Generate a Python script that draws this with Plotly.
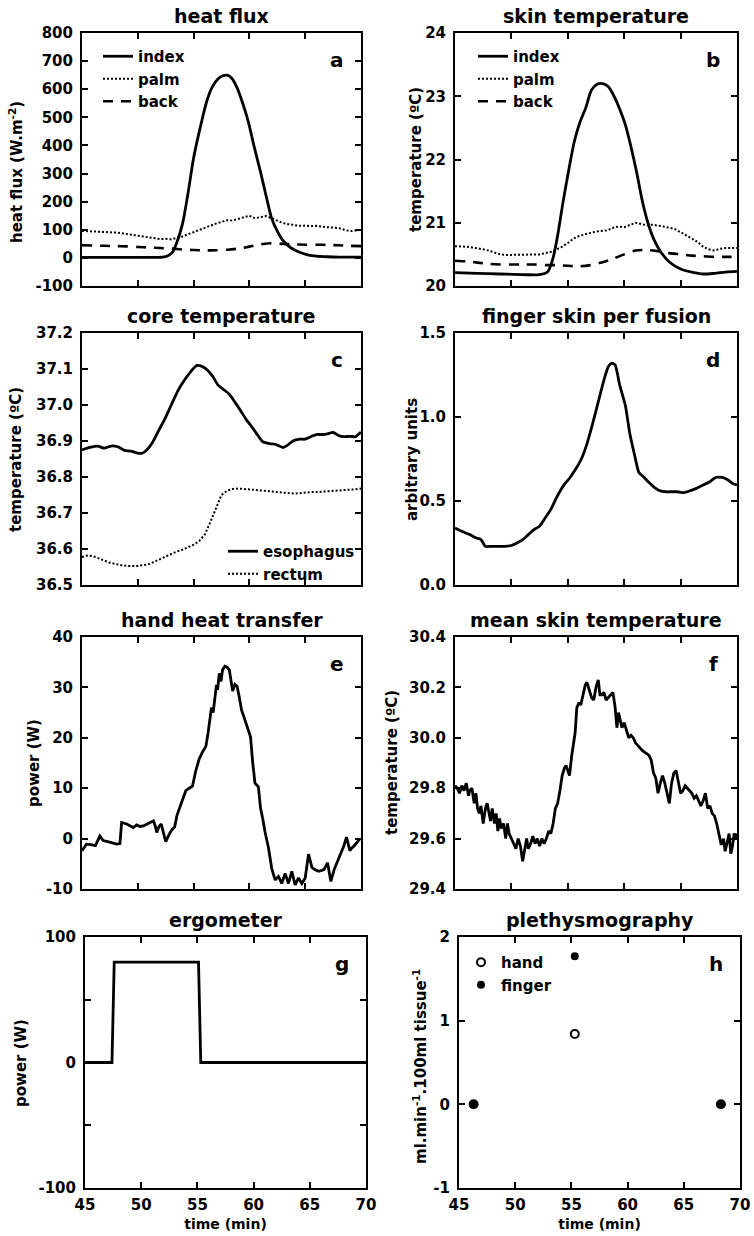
import plotly.graph_objects as go

# ---------------- data (time in min) ----------------
# a: heat flux (W.m-2)
a_index_t = [45, 47, 49, 51, 52.2, 52.7, 53.1, 53.5, 54, 54.5, 55, 55.6, 56.2, 56.7, 57.2, 57.6, 58,
             58.4, 58.9, 59.4, 59.9, 60.4, 61, 61.5, 62, 62.5, 63, 63.7, 64.5, 65.3, 66, 67, 68, 69, 70]
a_index = [2, 2, 2, 2, 3, 8, 20, 55, 120, 230, 355, 465, 560, 610, 637, 648, 650, 640, 605, 550, 485,
           400, 305, 220, 140, 95, 62, 36, 20, 10, 6, 4, 3, 3, 3]
a_palm_t = [45, 45.5, 46, 46.5, 47, 47.5, 48, 48.5, 49, 49.5, 50, 50.5, 51, 51.5, 52, 52.5, 53, 53.5,
            54, 54.5, 55, 55.5, 56, 56.5, 57, 57.5, 58, 58.5, 59, 59.5, 60, 60.5, 61, 61.5, 62, 62.5,
            63, 63.5, 64, 64.5, 65, 65.5, 66, 66.5, 67, 67.5, 68, 68.5, 69, 69.5, 70]
a_palm = [96, 95, 94, 95, 93, 92, 90, 88, 85, 80, 77, 74, 71, 69, 67, 68, 66, 71, 76, 84, 92, 99, 106,
          115, 122, 128, 134, 133, 138, 144, 150, 141, 146, 149, 141, 133, 124, 120, 117, 114, 115,
          113, 114, 111, 109, 108, 106, 100, 95, 97, 100]
a_back_t = [45, 46, 47, 48, 49, 50, 51, 52, 53, 54, 55, 56, 57, 58, 59, 60, 61, 62, 63, 64, 65, 66, 67,
            68, 69, 70]
a_back = [45, 44, 43, 42, 41, 39, 37, 35, 33, 30, 28, 27, 27, 29, 33, 40, 48, 52, 50, 48, 47, 47, 46,
          45, 43, 42]

# b: skin temperature (degC)
b_index_t = [45, 47, 49, 51, 52.5, 53.2, 53.7, 54.1, 54.6, 55.1, 55.6, 56.1, 56.6, 57.1, 57.6, 58.1,
             58.6, 59.1, 59.6, 60.1, 60.6, 61.1, 61.6, 62.1, 62.6, 63.2, 64, 65, 66, 67, 68, 69, 70]
b_index = [20.21, 20.2, 20.19, 20.18, 20.18, 20.22, 20.45, 20.8, 21.35, 21.85, 22.3, 22.6, 22.82, 23.1,
           23.19, 23.2, 23.15, 23.0, 22.8, 22.55, 22.2, 21.8, 21.35, 21.0, 20.75, 20.55, 20.38, 20.27,
           20.22, 20.19, 20.2, 20.22, 20.23]
b_palm_t = a_palm_t
b_palm = [20.63, 20.63, 20.62, 20.61, 20.6, 20.58, 20.56, 20.53, 20.5, 20.49, 20.49, 20.5, 20.5, 20.5,
          20.49, 20.5, 20.52, 20.54, 20.58, 20.62, 20.68, 20.75, 20.79, 20.82, 20.84, 20.86, 20.87,
          20.88, 20.92, 20.94, 20.93, 20.96, 21.0, 20.98, 20.96, 20.97, 20.96, 20.94, 20.92, 20.9,
          20.85, 20.8, 20.75, 20.7, 20.62, 20.58, 20.56, 20.59, 20.6, 20.6, 20.6]
b_back_t = a_back_t
b_back = [20.4, 20.39, 20.37, 20.35, 20.34, 20.34, 20.34, 20.34, 20.33, 20.33, 20.32, 20.31, 20.33,
          20.37, 20.43, 20.5, 20.56, 20.57, 20.55, 20.52, 20.5, 20.48, 20.47, 20.46, 20.46, 20.46]

# c: core temperature (degC)
c_eso_t = [45, 45.7, 46.4, 47, 47.6, 48.2, 48.8, 49.4, 50, 50.4, 50.8, 51.3, 51.8, 52.4, 53, 53.6, 54.2,
           54.8, 55.3, 55.7, 56.2, 56.7, 57.2, 57.6, 58.2, 58.7, 59.2, 59.7, 60.2, 60.7, 61.2, 61.8,
           62.4, 63, 63.4, 63.9, 64.5, 65, 65.5, 66, 66.5, 67, 67.5, 68, 68.5, 69, 69.5, 70]
c_eso = [36.875, 36.882, 36.886, 36.880, 36.886, 36.884, 36.874, 36.872, 36.866, 36.866, 36.875,
         36.895, 36.925, 36.96, 37.0, 37.04, 37.07, 37.095, 37.11, 37.108, 37.098, 37.08, 37.055,
         37.045, 37.03, 37.008, 36.985, 36.96, 36.94, 36.918, 36.898, 36.893, 36.89, 36.882, 36.888,
         36.9, 36.905, 36.905, 36.912, 36.918, 36.918, 36.92, 36.924, 36.915, 36.912, 36.913, 36.912,
         36.925]
c_rect_t = a_palm_t
c_rect = [36.578, 36.582, 36.58, 36.575, 36.568, 36.562, 36.558, 36.555, 36.553, 36.552, 36.553,
          36.555, 36.558, 36.565, 36.572, 36.58, 36.587, 36.593, 36.598, 36.605, 36.612, 36.622,
          36.64, 36.675, 36.715, 36.75, 36.762, 36.767, 36.768, 36.767, 36.766, 36.765, 36.764,
          36.762, 36.76, 36.758, 36.756, 36.754, 36.754, 36.755, 36.757, 36.758, 36.758, 36.759,
          36.76, 36.76, 36.761, 36.762, 36.764, 36.766, 36.768]

# d: finger skin perfusion (arbitrary units)
d_t = [45, 45.6, 46.3, 46.9, 47.3, 47.7, 48.2, 48.8, 49.4, 50, 50.5, 51, 51.5, 52, 52.5, 53, 53.5, 54,
       54.6, 55.2, 55.7, 56.2, 56.7, 57.2, 57.7, 58.2, 58.6, 58.9, 59.2, 59.6, 60.1, 60.5, 60.9, 61.3,
       61.7, 62.2, 62.7, 63.2, 63.7, 64.2, 64.7, 65.3, 65.8, 66.4, 67, 67.6, 68.1, 68.7, 69.2, 69.6, 70]
d_val = [0.34, 0.32, 0.30, 0.28, 0.27, 0.23, 0.23, 0.23, 0.23, 0.235, 0.25, 0.27, 0.30, 0.33, 0.35,
         0.40, 0.45, 0.52, 0.59, 0.64, 0.69, 0.75, 0.84, 0.96, 1.09, 1.22, 1.30, 1.32, 1.31, 1.19, 1.07,
         0.90, 0.78, 0.67, 0.645, 0.61, 0.58, 0.56, 0.555, 0.555, 0.555, 0.55, 0.56, 0.575, 0.595,
         0.615, 0.64, 0.64, 0.625, 0.605, 0.595]

# e: hand heat transfer (W)
e_t = [45.0, 45.4, 45.8, 46.2, 46.6, 46.9, 47.3, 47.6, 48.1, 48.4, 48.55, 49.0, 49.3, 49.6, 49.9, 50.2,
       50.5, 50.8, 51.1, 51.4, 51.55, 51.7, 51.9, 52.1, 52.3, 52.5, 52.8, 53.0, 53.3, 53.5, 53.7, 54.0,
       54.3, 54.6, 54.9, 55.2, 55.5, 55.8, 56.1, 56.3, 56.5, 56.6, 56.75, 56.9, 57.05, 57.15, 57.3,
       57.45, 57.6, 57.8, 58.0, 58.2, 58.35, 58.5, 58.7, 58.9, 59.1, 59.3, 59.5, 59.8, 60.1, 60.3, 60.5,
       60.8, 61.0, 61.2, 61.4, 61.7, 62.0, 62.3, 62.6, 62.9, 63.2, 63.5, 63.8, 64.1, 64.4, 64.7, 65.0,
       65.3, 65.6, 65.9, 66.2, 66.5, 66.7, 67.0, 67.3, 67.6, 67.9, 68.2, 68.45, 68.7, 69.0, 69.2, 69.4,
       69.7, 69.9]
e_val = [-2.4, -1.1, -1.2, -1.4, 0.5, -0.4, -0.6, -0.8, -1.1, -1.0, 3.2, 2.9, 2.6, 2.2, 2.7, 2.4, 2.5,
         2.9, 3.2, 3.5, 2.6, 1.2, 2.4, 2.9, 1.0, -0.6, 0.8, 1.6, 2.3, 4.5, 5.8, 7.5, 9.5, 10.0, 10.4,
         13.5, 15.8, 17.2, 18.3, 21.0, 24.5, 26.0, 25.0, 27.5, 30.5, 29.5, 32.8, 31.2, 33.5, 34.2, 34.0,
         33.5, 31.5, 29.3, 30.6, 30.2, 28.0, 25.5, 24.2, 22.0, 20.2, 15.0, 11.0, 10.3, 6.0, 3.9, 1.3,
         -1.7, -5.9, -8.2, -7.5, -8.9, -6.9, -8.9, -6.5, -9.2, -7.8, -8.9, -7.8, -3.1, -5.7, -6.2, -6.5,
         -6.3, -6.1, -4.8, -8.5, -6.1, -4.6, -3.1, -1.5, 0.3, -2.4, -1.8, -1.4, -0.6, 0.0]

# f: mean skin temperature (degC)
f_t = [45.0, 45.2, 45.4, 45.6, 45.8, 46.0, 46.2, 46.3, 46.5, 46.7, 46.85, 47.0, 47.15, 47.3, 47.5, 47.7,
       47.85, 48.0, 48.15, 48.3, 48.5, 48.65, 48.8, 48.95, 49.1, 49.3, 49.5, 49.65, 49.8, 50.0, 50.2,
       50.4, 50.6, 50.8, 51.0, 51.2, 51.35, 51.5, 51.7, 51.9, 52.1, 52.3, 52.5, 52.7, 52.9, 53.1, 53.3,
       53.5, 53.7, 53.9, 54.1, 54.3, 54.5, 54.7, 54.85, 55.0, 55.15, 55.35, 55.5, 55.65, 55.8, 56.0,
       56.15, 56.35, 56.55, 56.7, 56.9, 57.1, 57.3, 57.5, 57.7, 57.85, 58.0, 58.2, 58.4, 58.6, 58.8,
       59.0, 59.2, 59.35, 59.5, 59.65, 59.8, 60.0, 60.2, 60.4, 60.6, 60.8, 61.0, 61.2, 61.4, 61.6, 61.9,
       62.2, 62.4, 62.6, 62.8, 63.0, 63.2, 63.4, 63.6, 63.8, 64.0, 64.2, 64.4, 64.6, 64.8, 65.0, 65.2,
       65.4, 65.6, 65.8, 66.0, 66.2, 66.4, 66.6, 66.8, 67.0, 67.2, 67.4, 67.6, 67.8, 68.0, 68.2, 68.4,
       68.6, 68.8, 68.95, 69.1, 69.3, 69.45, 69.6, 69.75, 69.9, 70.0]
f_val = [29.81, 29.80, 29.78, 29.81, 29.79, 29.82, 29.77, 29.79, 29.80, 29.74, 29.78, 29.72, 29.70,
         29.73, 29.66, 29.72, 29.74, 29.70, 29.67, 29.72, 29.66, 29.70, 29.63, 29.68, 29.64, 29.66,
         29.60, 29.66, 29.62, 29.60, 29.58, 29.56, 29.60, 29.57, 29.51, 29.57, 29.60, 29.56, 29.58,
         29.61, 29.58, 29.60, 29.57, 29.60, 29.58, 29.60, 29.63, 29.62, 29.66, 29.72, 29.74, 29.79,
         29.85, 29.88, 29.89, 29.87, 29.85, 29.93, 29.98, 30.02, 30.12, 30.14, 30.13, 30.17, 30.21,
         30.22, 30.19, 30.16, 30.15, 30.20, 30.23, 30.17, 30.17, 30.18, 30.15, 30.16, 30.17, 30.18,
         30.12, 30.04, 30.10, 30.07, 30.04, 30.06, 30.03, 30.00, 30.01, 30.00, 29.98, 29.97, 29.96,
         29.95, 29.94, 29.93, 29.91, 29.86, 29.84, 29.78, 29.82, 29.85, 29.82, 29.78, 29.74, 29.82,
         29.86, 29.87, 29.82, 29.78, 29.79, 29.81, 29.80, 29.79, 29.78, 29.76, 29.77, 29.75, 29.73,
         29.75, 29.78, 29.72, 29.73, 29.70, 29.69, 29.66, 29.62, 29.575, 29.60, 29.55, 29.58, 29.62,
         29.54, 29.57, 29.62, 29.60, 29.62]

# g: ergometer load (W)
g_t = [45, 47.4, 47.6, 55.1, 55.3, 70]
g_val = [0, 0, 80, 80, 0, 0]

# h: plethysmography (ml.min-1.100ml tissue-1)
h_t = [46.3, 55.3, 68.3]
h_hand = [0, 0.84, 0]
h_finger = [0, 1.77, 0]

# ---------------- axis ticks ----------------
time_ticks = [45, 50, 55, 60, 65, 70]
time_labels = ["45", "50", "55", "60", "65", "70"]
a_ticks = [-100, 0, 100, 200, 300, 400, 500, 600, 700, 800]
a_labels = ["-100", "0", "100", "200", "300", "400", "500", "600", "700", "800"]
b_ticks = [20, 21, 22, 23, 24]
b_labels = ["20", "21", "22", "23", "24"]
c_ticks = [36.5, 36.6, 36.7, 36.8, 36.9, 37.0, 37.1, 37.2]
c_labels = ["36.5", "36.6", "36.7", "36.8", "36.9", "37.0", "37.1", "37.2"]
d_ticks = [0, 0.5, 1.0, 1.5]
d_labels = ["0.0", "0.5", "1.0", "1.5"]
e_ticks = [-10, 0, 10, 20, 30, 40]
e_labels = ["-10", "0", "10", "20", "30", "40"]
f_ticks = [29.4, 29.6, 29.8, 30.0, 30.2, 30.4]
f_labels = ["29.4", "29.6", "29.8", "30.0", "30.2", "30.4"]
g_ticks = [-100, 0, 100]
g_labels = ["-100", "0", "100"]
g_minor = [-50, 50]
h_ticks = [-1, 0, 1, 2]
h_labels = ["-1", "0", "1", "2"]

# ---------------- layout geometry ----------------
W, H = 754, 1236
FONT = "DejaVu Sans"
INK = "black"

rows_px = [(33, 286), (333, 585), (637, 889), (937, 1188)]
cols_px = [[(82, 361), (455, 737)], [(82, 361), (455, 737)], [(82, 361), (455, 737)],
           [(85, 366), (459, 740)]]

def xdom(c):
    return [c[0] / W, c[1] / W]

def ydom(r):
    return [1 - r[1] / H, 1 - r[0] / H]

fig = go.Figure()

panels = [
    # (title, letter, y range, ticks, labels, minor ticks, y title, title x px, title y px)
    ("heat flux", "a", [-100, 800], a_ticks, a_labels, None, "heat flux (W.m<sup>-2</sup>)", 16, 172),
    ("skin temperature", "b", [20, 24], b_ticks, b_labels, None, "temperature (ºC)", 416, 160),
    ("core temperature", "c", [36.5, 37.2], c_ticks, c_labels, None, "temperature (ºC)", 16, 460),
    ("finger skin per fusion", "d", [0, 1.5], d_ticks, d_labels, None, "arbitrary units", 412, 460),
    ("hand heat transfer", "e", [-10, 40], e_ticks, e_labels, None, "power (W)", 34, 763),
    ("mean skin temperature", "f", [29.4, 30.4], f_ticks, f_labels, None, "temperature (ºC)", 392, 763),
    ("ergometer", "g", [-100, 100], g_ticks, g_labels, g_minor, "power (W)", 21, 1063),
    ("plethysmography", "h", [-1, 2], h_ticks, h_labels, None,
     "ml.min<sup>-1</sup>.100ml tissue<sup>-1</sup>", 420, 1067),
]

annotations = []
layout_axes = {}
for i, (title, letter, yr, yt, yl, ym, ytitle, tx, ty) in enumerate(panels):
    row, col = divmod(i, 2)
    n = "" if i == 0 else str(i + 1)
    bottom = row == 3
    common = dict(
        showline=True, linewidth=2, linecolor=INK, mirror="allticks",
        ticks="inside", ticklen=6, tickwidth=2, tickcolor=INK,
        showgrid=False, zeroline=False, automargin=False,
        tickfont=dict(family=FONT, size=15, color=INK, weight="bold"),
    )
    xa = dict(common, domain=xdom(cols_px[row][col]), range=[45, 70], anchor="y" + n,
              tickmode="array", tickvals=time_ticks, ticktext=time_labels,
              showticklabels=bottom, ticklabelstandoff=2)
    if bottom:
        xa["title"] = dict(text="time (min)", standoff=6,
                           font=dict(family=FONT, size=14, color=INK, weight="bold"))
    ya = dict(common, domain=ydom(rows_px[row]), range=yr, anchor="x" + n,
              tickmode="array", tickvals=yt, ticktext=yl, ticklabelstandoff=4)
    if ym:
        ya["minor"] = dict(tickmode="array", tickvals=ym, ticks="inside", ticklen=6,
                           tickwidth=2, tickcolor=INK, showgrid=False)
    layout_axes["xaxis" + n] = xa
    layout_axes["yaxis" + n] = ya

    annotations.append(dict(text=title, xref="x%s domain" % n, yref="y%s domain" % n,
                            x=0.5, y=1, yshift=17, xanchor="center", yanchor="middle",
                            showarrow=False,
                            font=dict(family=FONT, size=19, color=INK, weight="bold")))
    annotations.append(dict(text=letter, xref="x%s domain" % n, yref="y%s domain" % n,
                            x=1, y=1, xshift=-24, yshift=-27, xanchor="center", yanchor="middle",
                            showarrow=False,
                            font=dict(family=FONT, size=20, color=INK, weight="bold")))
    annotations.append(dict(text=ytitle, xref="paper", yref="paper", x=tx / W, y=1 - ty / H,
                            xanchor="center", yanchor="middle", textangle=-90, showarrow=False,
                            font=dict(family=FONT, size=15, color=INK, weight="bold")))

SOLID = dict(color=INK, width=2.8)
DOTTED = dict(color=INK, width=2, dash="2px,2px")
DASHED = dict(color=INK, width=2.6, dash="10px,8px")

# a
fig.add_trace(go.Scatter(x=a_index_t, y=a_index, name="index", mode="lines",
                         line=dict(SOLID, shape="spline", smoothing=0.8), xaxis="x", yaxis="y",
                         legend="legend"))
fig.add_trace(go.Scatter(x=a_palm_t, y=a_palm, name="palm", mode="lines", line=DOTTED,
                         xaxis="x", yaxis="y", legend="legend"))
fig.add_trace(go.Scatter(x=a_back_t, y=a_back, name="back", mode="lines",
                         line=dict(DASHED, shape="spline", smoothing=0.8), xaxis="x", yaxis="y",
                         legend="legend"))
# b
fig.add_trace(go.Scatter(x=b_index_t, y=b_index, name="index", mode="lines",
                         line=dict(SOLID, shape="spline", smoothing=0.8), xaxis="x2", yaxis="y2",
                         legend="legend2"))
fig.add_trace(go.Scatter(x=b_palm_t, y=b_palm, name="palm", mode="lines", line=DOTTED,
                         xaxis="x2", yaxis="y2", legend="legend2"))
fig.add_trace(go.Scatter(x=b_back_t, y=b_back, name="back", mode="lines",
                         line=dict(DASHED, shape="spline", smoothing=0.8), xaxis="x2", yaxis="y2",
                         legend="legend2"))
# c
fig.add_trace(go.Scatter(x=c_eso_t, y=c_eso, name="esophagus", mode="lines",
                         line=dict(SOLID, shape="spline", smoothing=0.6), xaxis="x3", yaxis="y3",
                         legend="legend3"))
fig.add_trace(go.Scatter(x=c_rect_t, y=c_rect, name="rectum", mode="lines", line=DOTTED,
                         xaxis="x3", yaxis="y3", legend="legend3"))
# d
fig.add_trace(go.Scatter(x=d_t, y=d_val, mode="lines", showlegend=False,
                         line=dict(SOLID, shape="spline", smoothing=0.5), xaxis="x4", yaxis="y4"))
# e
fig.add_trace(go.Scatter(x=e_t, y=e_val, mode="lines", showlegend=False, line=SOLID,
                         xaxis="x5", yaxis="y5"))
# f
fig.add_trace(go.Scatter(x=f_t, y=f_val, mode="lines", showlegend=False, line=SOLID,
                         xaxis="x6", yaxis="y6"))
# g
fig.add_trace(go.Scatter(x=g_t, y=g_val, mode="lines", showlegend=False, line=SOLID,
                         xaxis="x7", yaxis="y7"))
# h
fig.add_trace(go.Scatter(x=h_t, y=h_hand, name="hand", mode="markers",
                         marker=dict(symbol="circle-open", size=8, color=INK, line=dict(width=2)),
                         xaxis="x8", yaxis="y8", legend="legend4", cliponaxis=False))
fig.add_trace(go.Scatter(x=h_t, y=h_finger, name="finger", mode="markers",
                         marker=dict(symbol="circle", size=8, color=INK),
                         xaxis="x8", yaxis="y8", legend="legend4", cliponaxis=False))

leg_font = dict(family=FONT, size=15, color=INK, weight="bold")
def legend_at(xpx, ypx, xanchor="left", yanchor="top"):
    return dict(x=xpx / W, y=1 - ypx / H, xref="paper", yref="paper", xanchor=xanchor,
                yanchor=yanchor, bgcolor="rgba(0,0,0,0)", borderwidth=0, font=leg_font,
                tracegroupgap=0)

fig.update_layout(
    width=W, height=H, margin=dict(l=0, r=0, t=0, b=0),
    paper_bgcolor="white", plot_bgcolor="white",
    font=dict(family=FONT, color=INK),
    showlegend=True,
    legend=legend_at(98, 40),
    legend2=legend_at(473, 40),
    legend3=legend_at(360, 590, xanchor="right", yanchor="bottom"),
    legend4=legend_at(461, 946),
    annotations=annotations,
    **layout_axes,
)

fig.write_html("out.html")
